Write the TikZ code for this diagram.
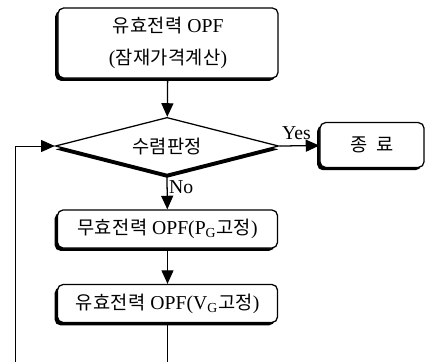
\documentclass[tikz,border=0pt]{standalone}
\usepackage{fontspec}
\setmainfont{Liberation Serif}
\newfontfamily\kr[Scale=0.95,LetterSpace=2]{Noto Sans CJK KR}
\usetikzlibrary{shapes.geometric,arrows.meta,shadows}

\tikzset{
  procbox/.style={draw,rounded corners=4pt,fill=white,line width=0.9pt,
    minimum width=5.5cm,minimum height=0.95cm,align=center,
    font=\fontsize{14}{16}\selectfont,
    general shadow={fill=black,shadow xshift=-2pt,shadow yshift=-2pt}},
  decbox/.style={draw,diamond,aspect=3.9,inner sep=0pt,fill=white,line width=0.9pt,
    minimum width=5.58cm,minimum height=1.43cm,font=\fontsize{14}{16}\selectfont,
    general shadow={fill=black,shadow yshift=-2.4pt}},
  flow/.style={line width=0.9pt,-{Triangle[length=3.4mm,width=3mm]}},
  lbl/.style={font=\fontsize{14}{16}\selectfont,inner sep=1pt}
}

\begin{document}
\begin{tikzpicture}[x=0.025cm,y=-0.025cm]
\clip (0,0) rectangle (426,361);
\node[procbox,minimum height=1.75cm] (aopf) at (168,43)
  {{\kr 유효전력} OPF\\[7pt]({\kr 잠재가격계산})};
\node[decbox] (conv) at (167,146) {{\kr 수렴판정}};
\node[procbox,minimum width=2.6cm,minimum height=1.12cm] (stop) at (372,145) {{\kr 종\ \ 료}};
\node[procbox] (qopf) at (167.5,229) {{\kr 무효전력} OPF(P\textsubscript{G}{\kr 고정})};
\node[procbox] (popf) at (167.5,303.5) {{\kr 유효전력} OPF(V\textsubscript{G}{\kr 고정})};
\coordinate (loop) at (15,400);

\draw[flow] (aopf) -- (conv);
\draw[flow] (conv.east) -- node[lbl,above=3pt,xshift=-2pt]{Yes} (stop);
\draw[flow] (conv.south) -- node[lbl,right,pos=0.35]{No} (qopf);
\draw[flow] (qopf) -- (popf);
\draw[flow,line width=0.6pt] (popf.south) |- (loop) |- (conv.west);
\end{tikzpicture}
\end{document}
